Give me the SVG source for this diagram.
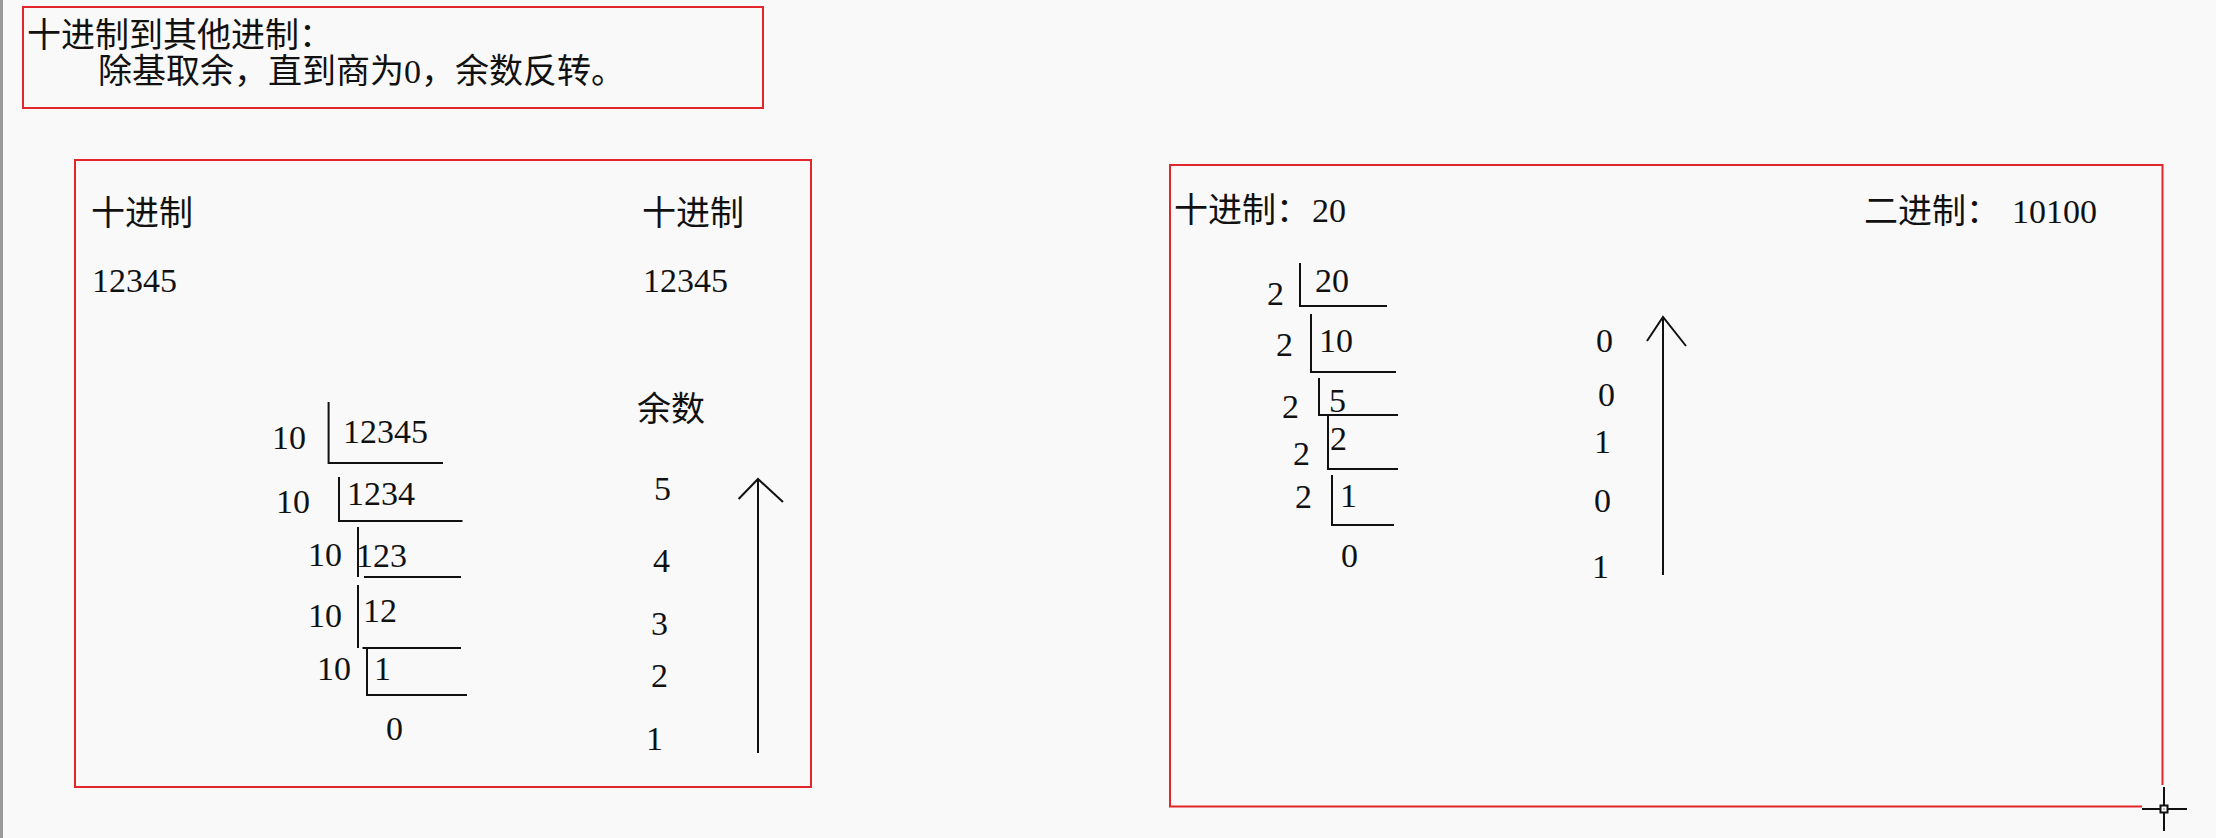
<svg xmlns="http://www.w3.org/2000/svg" width="2216" height="838" viewBox="0 0 2216 838">
<style>
.frame{fill:none;stroke:#e2262b;stroke-width:2}
.ln{fill:none;stroke:#111;stroke-width:2}
.t{font-family:"Liberation Serif","Noto Sans CJK SC",serif;font-size:34px;fill:#111}
.c{font-family:"Noto Sans CJK SC",sans-serif;font-size:34px;fill:#111}
</style>
<rect x="0" y="0" width="2216" height="838" fill="#f9f9f9"/>
<rect x="0" y="0" width="3" height="838" fill="#9a9a9a"/>

<g id="title">
<rect class="frame" x="23" y="7" width="740" height="101"/>
<text class="c" x="27" y="47">十进制到其他进制：</text>
<text class="t" x="98" y="83">除基取余，直到商为0，余数反转。</text>
</g>

<g id="decimal-box">
<rect class="frame" x="75" y="160" width="736" height="627"/>
<text class="c" x="91" y="225">十进制</text>
<text class="t" x="92" y="292">12345</text>
<text class="c" x="642" y="225">十进制</text>
<text class="t" x="643" y="292">12345</text>
<text class="c" x="637" y="421">余数</text>
</g>

<g id="decimal-division">
<text class="t" x="272" y="449">10</text>
<text class="t" x="343" y="443">12345</text>
<text class="t" x="276" y="513">10</text>
<text class="t" x="347" y="505">1234</text>
<text class="t" x="308" y="566">10</text>
<text class="t" x="356" y="567">123</text>
<text class="t" x="308" y="627">10</text>
<text class="t" x="363" y="622">12</text>
<text class="t" x="317" y="680">10</text>
<text class="t" x="374" y="680">1</text>
<text class="t" x="386" y="740">0</text>
</g>

<g id="decimal-remainders">
<text class="t" x="654" y="500">5</text>
<text class="t" x="653" y="572">4</text>
<text class="t" x="651" y="635">3</text>
<text class="t" x="651" y="687">2</text>
<text class="t" x="646" y="750">1</text>
</g>

<g id="binary-box">
<path class="frame" d="M2142 806.5H1170V165H2162.5V785"/>
<text class="c" x="1174" y="222">十进制：<tspan class="t" x="1312">20</tspan></text>
<text class="c" x="1864" y="223">二进制：<tspan class="t" x="2012">10100</tspan></text>
</g>

<g id="binary-division">
<text class="t" x="1267" y="305">2</text>
<text class="t" x="1315" y="292">20</text>
<text class="t" x="1276" y="356">2</text>
<text class="t" x="1319" y="352">10</text>
<text class="t" x="1282" y="418">2</text>
<text class="t" x="1329" y="412">5</text>
<text class="t" x="1293" y="465">2</text>
<text class="t" x="1330" y="450">2</text>
<text class="t" x="1295" y="508">2</text>
<text class="t" x="1340" y="507">1</text>
<text class="t" x="1341" y="567">0</text>
</g>

<g id="binary-remainders">
<text class="t" x="1596" y="352">0</text>
<text class="t" x="1598" y="406">0</text>
<text class="t" x="1594" y="453">1</text>
<text class="t" x="1594" y="512">0</text>
<text class="t" x="1592" y="578">1</text>
</g>

<g id="connectors">
<path class="ln" d="M328.6 402V463H443"/>
<path class="ln" d="M339 477V521H462.5"/>
<path class="ln" d="M358 527V577M364 577H461"/>
<path class="ln" d="M358 585V648M362.5 648H461"/>
<path class="ln" d="M367 648V695H467"/>
<path class="ln" d="M758 753V479M738.6 499L758 479L783 502"/>
<path class="ln" d="M1300 263V306H1387"/>
<path class="ln" d="M1311 314V372H1396"/>
<path class="ln" d="M1319 378V415H1398"/>
<path class="ln" d="M1328 416V469H1398"/>
<path class="ln" d="M1332 475V525H1394"/>
<path class="ln" d="M1663 575V317M1647 341L1663 317L1686 346"/>
</g>

<g id="cursor">
<path class="ln" d="M2142 809H2160.5M2167.5 809H2187M2164 787V805.5M2164 812.5V831"/>
<rect x="2160.5" y="805.5" width="7" height="7" fill="#fff" stroke="#111" stroke-width="2"/>
<rect x="2163.5" y="808.5" width="1" height="1" fill="#111"/>
</g>
</svg>
